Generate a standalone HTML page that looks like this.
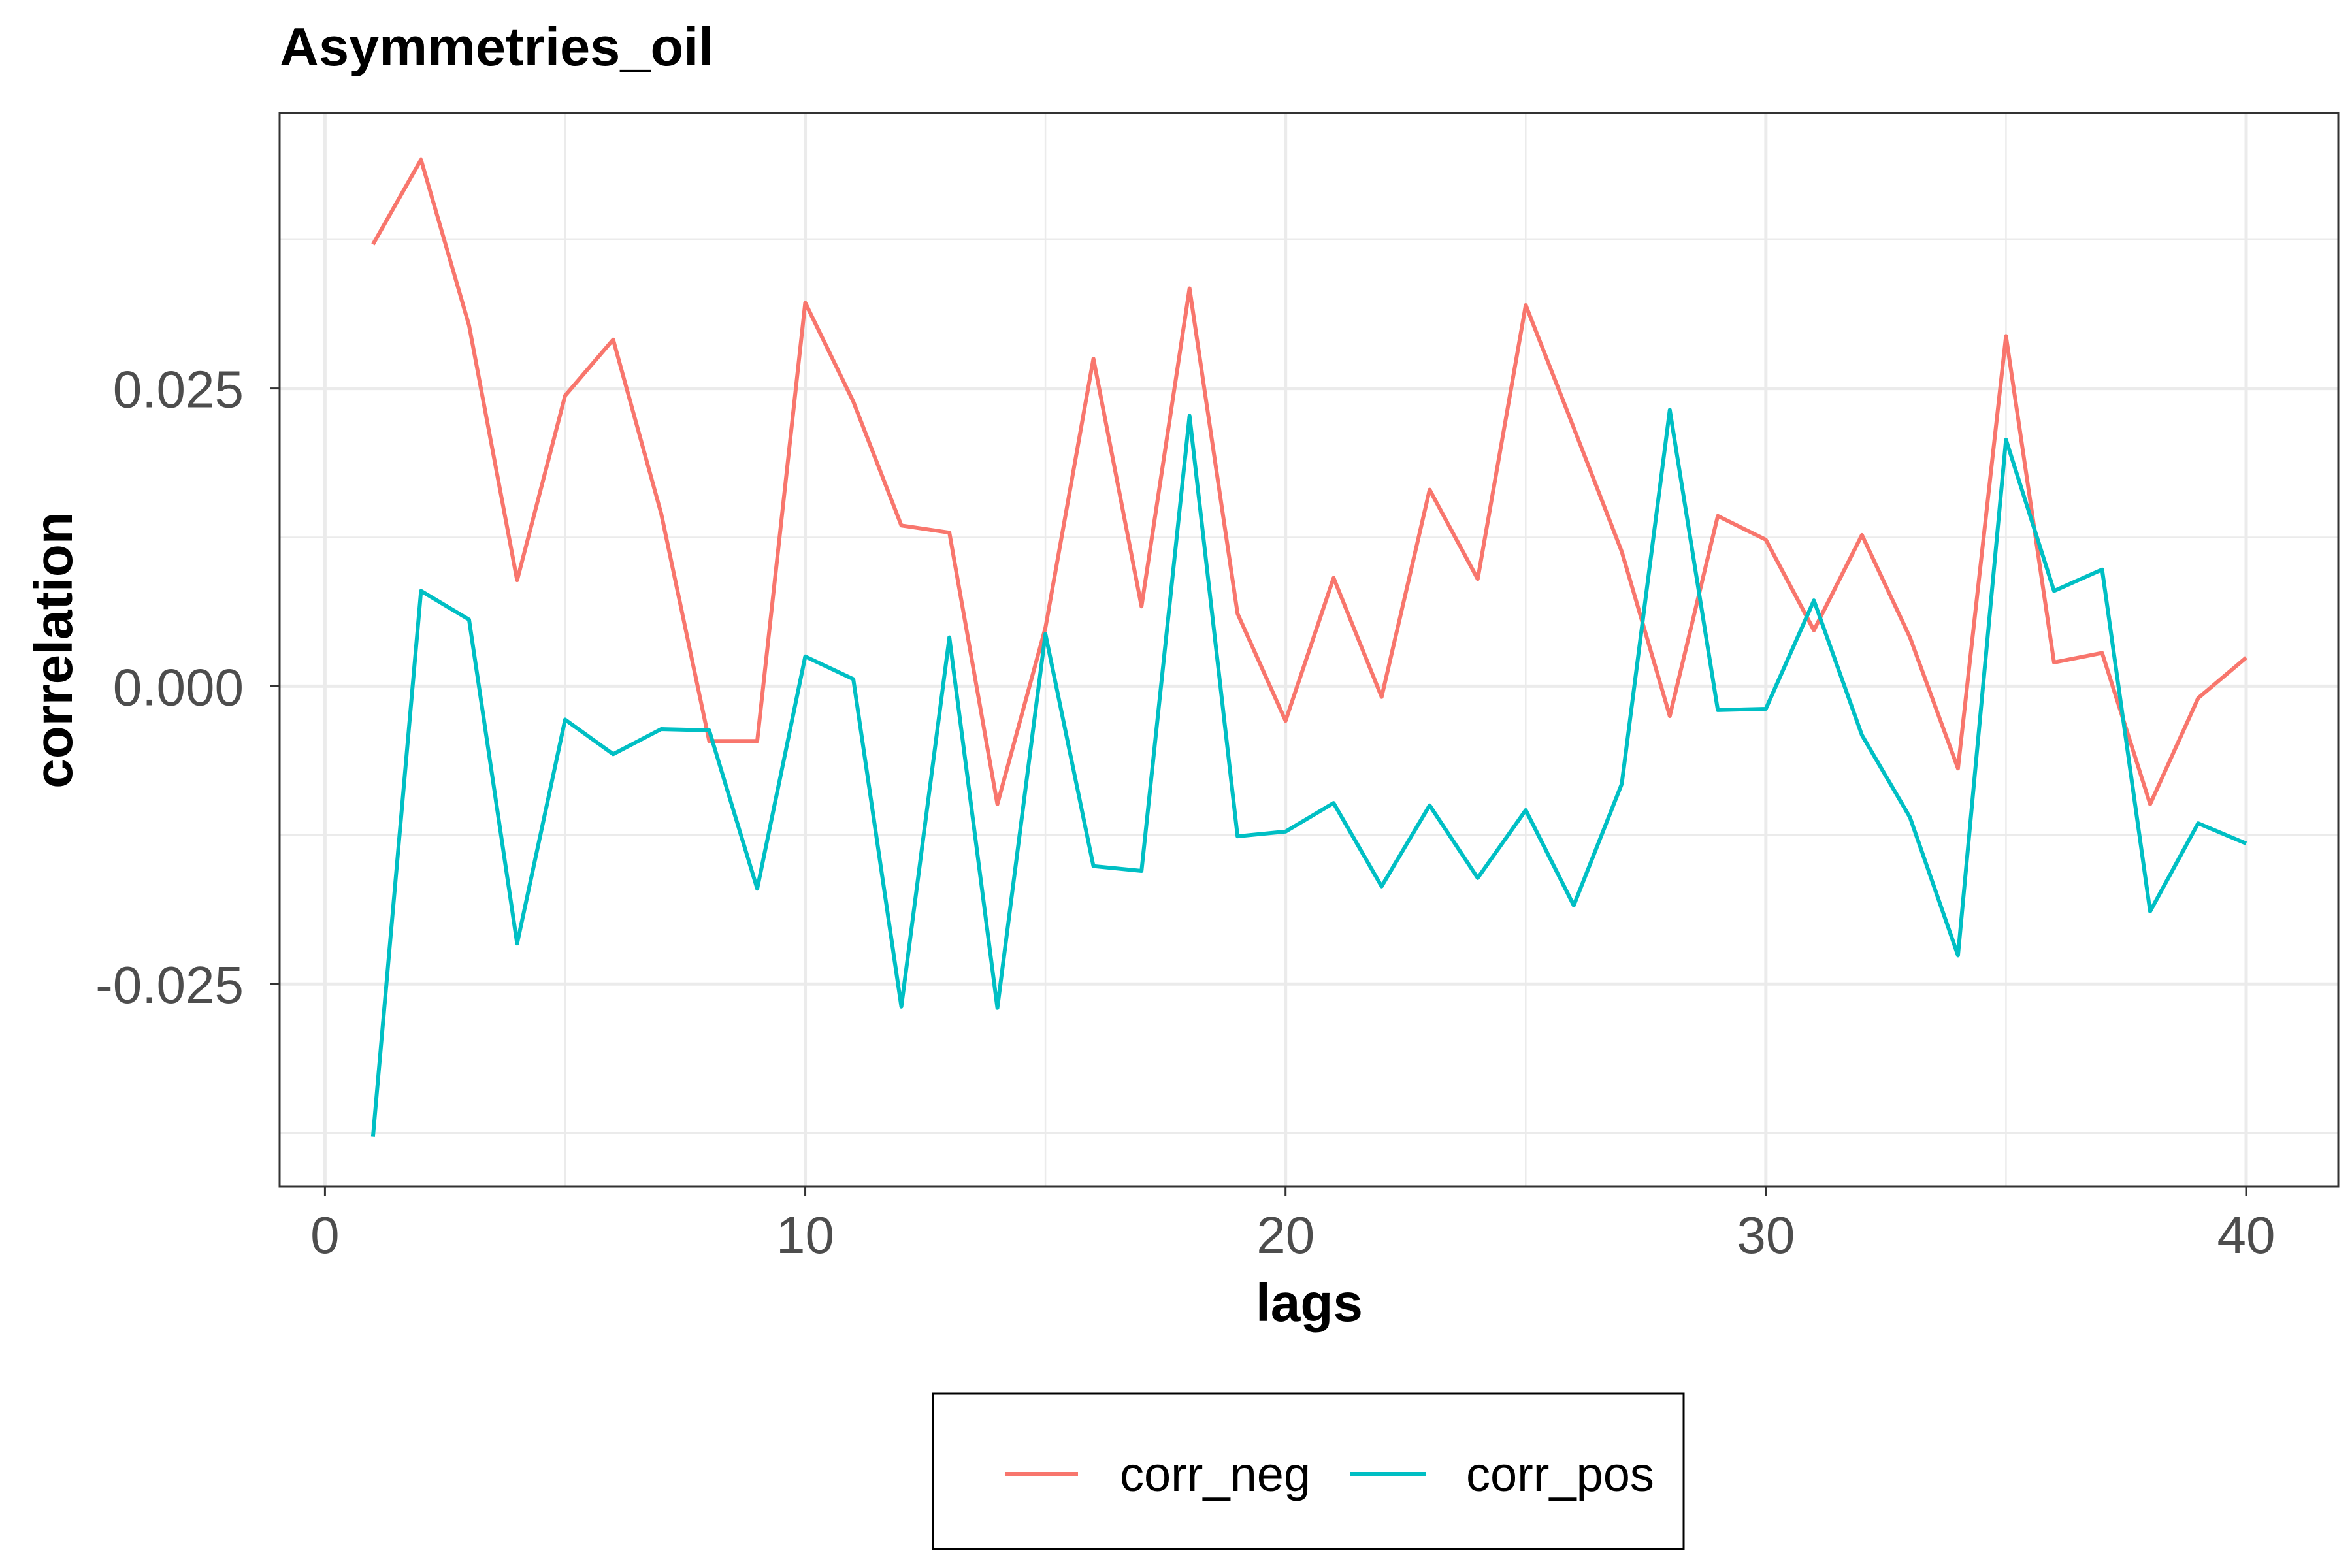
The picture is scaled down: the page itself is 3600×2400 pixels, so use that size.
<!DOCTYPE html>
<html><head><meta charset="utf-8">
<style>html,body{margin:0;padding:0;background:#fff}svg{display:block}</style>
</head><body>
<svg id="chart" width="3600" height="2400" xmlns="http://www.w3.org/2000/svg" font-family="Liberation Sans, Arial, sans-serif">
<rect width="3600" height="2400" fill="#fff"/>
<text x="428" y="100" font-size="83" font-weight="bold" fill="#000">Asymmetries_oil</text>
<g id="grid"></g>
<g id="series"></g>
<rect x="428" y="173" width="3151" height="1643" fill="none" stroke="#333" stroke-width="3"/>
<g id="axes"></g>
<text x="2004" y="2022" font-size="82" font-weight="bold" text-anchor="middle" fill="#000">lags</text>
<text transform="translate(110,995) rotate(-90)" font-size="82" font-weight="bold" text-anchor="middle" fill="#000">correlation</text>
<g>
<rect x="1428" y="2133" width="1149" height="238" fill="#fff" stroke="#000" stroke-width="3"/>
<line x1="1539" y1="2256" x2="1650" y2="2256" stroke="#F8766D" stroke-width="6"/>
<text x="1714" y="2282" font-size="74" fill="#000">corr_neg</text>
<line x1="2066" y1="2256" x2="2182" y2="2256" stroke="#00BFC4" stroke-width="6"/>
<text x="2244" y="2282" font-size="74" fill="#000">corr_pos</text>
</g>
</svg>
<script>
const lags = [];
for (let i = 1; i <= 40; i++) lags.push(i);
const corrNeg = [0.0371,0.0442,0.0303,0.0089,0.0244,0.0291,0.0145,-0.0046,-0.0046,0.0322,0.0239,0.0135,0.0129,-0.0099,0.0049,0.0275,0.0067,0.0334,0.0061,-0.0029,0.0091,-0.0009,0.0165,0.0090,0.0320,0.0217,0.0113,-0.0025,0.0143,0.0123,0.0047,0.0127,0.0041,-0.0069,0.0294,0.0020,0.0028,-0.0099,-0.0010,0.0024];
const corrPos = [-0.0378,0.0080,0.0056,-0.0216,-0.0028,-0.0057,-0.0036,-0.0037,-0.0170,0.0025,0.0006,-0.0269,0.0041,-0.0270,0.0044,-0.0151,-0.0155,0.0227,-0.0126,-0.0122,-0.0098,-0.0168,-0.0100,-0.0161,-0.0104,-0.0184,-0.0082,0.0232,-0.0020,-0.0019,0.0072,-0.0041,-0.0110,-0.0226,0.0207,0.0080,0.0098,-0.0189,-0.0115,-0.0132];
const xTicks = [0,10,20,30,40];
const xMinor = [5,15,25,35];
const yTicks = [-0.025,0,0.025];
const yTickLabels = ["-0.025","0.000","0.025"];
const yMinor = [-0.0375,-0.0125,0.0125,0.0375];

const NS = "http://www.w3.org/2000/svg";
const PL = 428, PR = 3579, PT = 173, PB = 1816;
const xs = v => 497.4 + v * (3438 - 497.4) / 40;
const ys = v => 1050.4 - v * (455.8 / 0.025);
function mk(tag, attrs, parent) {
  const e = document.createElementNS(NS, tag);
  for (const k in attrs) e.setAttribute(k, attrs[k]);
  parent.appendChild(e);
  return e;
}
const grid = document.getElementById('grid');
const axes = document.getElementById('axes');
const series = document.getElementById('series');
xMinor.forEach(v => {
  const l = mk('line', {x1: xs(v), x2: xs(v), y1: PT, y2: PB, stroke: '#ebebeb', 'stroke-width': 2.5}, grid);
  
  
});
yMinor.forEach(v => {
  const l = mk('line', {x1: PL, x2: PR, y1: ys(v), y2: ys(v), stroke: '#ebebeb', 'stroke-width': 2.5}, grid);
  
  
});
xTicks.forEach(v => {
  const l = mk('line', {x1: xs(v), x2: xs(v), y1: PT, y2: PB, stroke: '#ebebeb', 'stroke-width': 5}, grid);
  
  
  const t = mk('line', {x1: xs(v), x2: xs(v), y1: PB, y2: PB + 15, stroke: '#333', 'stroke-width': 3}, axes);
  
  
  const tx = mk('text', {x: xs(v), y: 1918, 'font-size': 80, 'text-anchor': 'middle', fill: '#4d4d4d'}, axes);
  tx.textContent = String(v);
  
  
});
yTicks.forEach((v, i) => {
  const l = mk('line', {x1: PL, x2: PR, y1: ys(v), y2: ys(v), stroke: '#ebebeb', 'stroke-width': 5}, grid);
  
  
  const t = mk('line', {x1: PL - 15, x2: PL, y1: ys(v), y2: ys(v), stroke: '#333', 'stroke-width': 3}, axes);
  
  
  const tx = mk('text', {x: 373, y: ys(v) + 29, 'font-size': 80, 'text-anchor': 'end', fill: '#4d4d4d'}, axes);
  tx.textContent = yTickLabels[i];
  
  
});
function drawLine(vals, color, name) {
  const pts = vals.map((v, i) => xs(lags[i]).toFixed(1) + ',' + ys(v).toFixed(1)).join(' ');
  const p = mk('polyline', {points: pts, fill: 'none', stroke: color, 'stroke-width': 6, 'stroke-linejoin': 'round'}, series);
  
  
}
drawLine(corrNeg, '#F8766D', 'corr-neg-line');
drawLine(corrPos, '#00BFC4', 'corr-pos-line');
</script>
</body></html>
